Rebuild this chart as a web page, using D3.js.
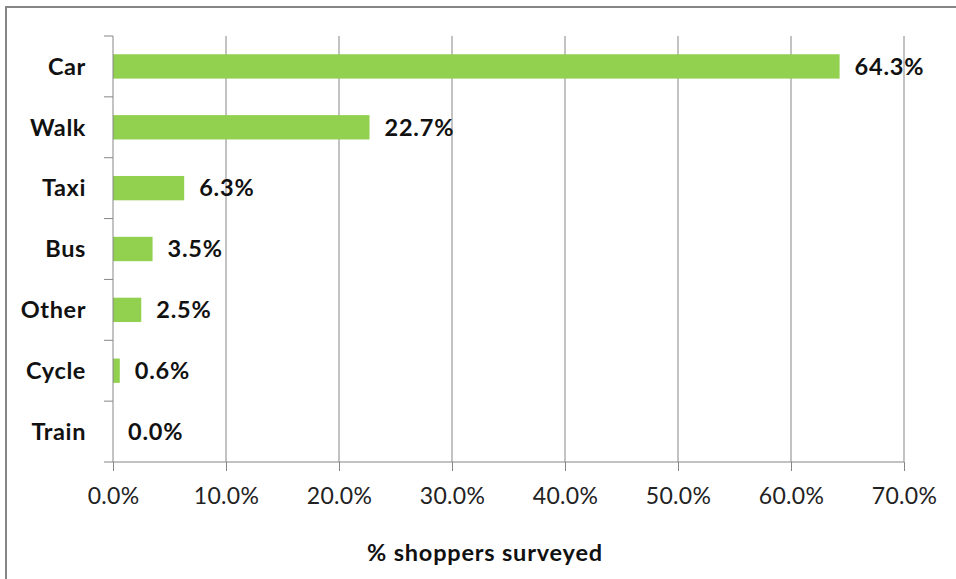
<!DOCTYPE html>
<html>
<head>
<meta charset="utf-8">
<script src="https://cdn.jsdelivr.net/npm/d3@7"></script>
<style>
  body { margin: 0; background: #fff; }
  svg { display: block; }
</style>
</head>
<body>
<div id="chart"></div>
<script>
var categories = ['Car', 'Walk', 'Taxi', 'Bus', 'Other', 'Cycle', 'Train'];
var shares = [64.3, 22.7, 6.3, 3.5, 2.5, 0.6, 0.0];
var xTicks = [0, 10, 20, 30, 40, 50, 60, 70];

var w = 956;
var h = 579;
var plotLeft = 113, plotRight = 904, plotTop = 36, plotBottom = 462;

var svg = d3.select('#chart')
            .append('svg')
            .attr('width', w)
            .attr('height', h)
            .style('font-family', 'Lato, sans-serif');

// outer frame of the chart
svg.append('path')
   .attr('d', 'M6,' + h + ' V7 H' + w)
   .attr('fill', 'none')
   .attr('stroke', '#868686')
   .attr('stroke-width', 2);

var xScale = d3.scaleLinear()
               .domain([0, 70])
               .range([plotLeft, plotRight]);
var yScale = d3.scaleBand()
               .domain(categories)
               .range([plotTop, plotBottom])
               .paddingInner(0.6)
               .paddingOuter(0.3);

// vertical gridlines
svg.append('g')
   .selectAll('line')
   .data(xTicks.slice(1))
   .enter()
   .append('line')
   .attr('x1', d => xScale(d))
   .attr('x2', d => xScale(d))
   .attr('y1', plotTop)
   .attr('y2', plotBottom)
   .attr('stroke', '#868686')
   .attr('stroke-width', 1);

// bars
svg.append('g')
   .selectAll('rect')
   .data(shares)
   .enter()
   .append('rect')
   .attr('x', xScale(0))
   .attr('y', (d, i) => yScale(categories[i]))
   .attr('width', d => xScale(d) - xScale(0))
   .attr('height', yScale.bandwidth())
   .attr('fill', '#92d050');

// x axis
var xAxis = d3.axisBottom(xScale)
              .tickValues(xTicks)
              .tickSize(9)
              .tickPadding(17)
              .tickFormat(d => d.toFixed(1) + '%');
var gx = svg.append('g')
            .attr('transform', `translate(0,${plotBottom})`)
            .call(xAxis);
gx.select('.domain').remove();
gx.append('line')
  .attr('x1', plotLeft - 9).attr('x2', plotRight)
  .attr('stroke', '#868686');
gx.selectAll('.tick line').attr('stroke', '#868686');
gx.selectAll('.tick text')
  .attr('fill', '#222')
  .style('font-size', '23px')
  .style('letter-spacing', '0.3px')
  .style('font-family', 'Lato, sans-serif');

// y axis: ticks at band boundaries
var step = (plotBottom - plotTop) / categories.length;
var gy = svg.append('g');
gy.append('line')
  .attr('x1', plotLeft).attr('x2', plotLeft)
  .attr('y1', plotTop).attr('y2', plotBottom)
  .attr('stroke', '#868686');
gy.selectAll('.ytick')
  .data(d3.range(categories.length))
  .enter()
  .append('line')
  .attr('class', 'ytick')
  .attr('x1', plotLeft - 9).attr('x2', plotLeft)
  .attr('y1', i => plotTop + i * step)
  .attr('y2', i => plotTop + i * step)
  .attr('stroke', '#868686');
gy.selectAll('text')
  .data(categories)
  .enter()
  .append('text')
  .attr('x', 86)
  .attr('y', d => yScale(d) + yScale.bandwidth() / 2)
  .attr('dy', '0.35em')
  .attr('text-anchor', 'end')
  .attr('fill', '#111')
  .style('font-size', '23.5px')
  .style('letter-spacing', '0.6px')
  .style('font-weight', 'bold')
  .text(d => d);

// value labels
svg.append('g')
   .selectAll('text')
   .data(shares)
   .enter()
   .append('text')
   .attr('x', d => xScale(d) + 15)
   .attr('y', (d, i) => yScale(categories[i]) + yScale.bandwidth() / 2)
   .attr('dy', '0.35em')
   .attr('fill', '#111')
   .style('font-size', '23.5px')
   .style('letter-spacing', '0.8px')
   .style('font-weight', 'bold')
   .text(d => d.toFixed(1) + '%');

// axis title
svg.append('text')
   .attr('x', 485)
   .attr('y', 561)
   .attr('text-anchor', 'middle')
   .attr('fill', '#111')
   .style('font-size', '23.5px')
   .style('letter-spacing', '0.8px')
   .style('font-weight', 'bold')
   .text('% shoppers surveyed');
</script>
</body>
</html>
